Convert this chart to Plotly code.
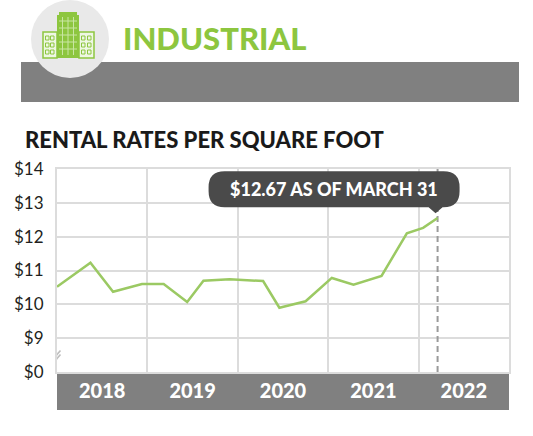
import plotly.graph_objects as go

# quarterly rental rates (position in fractional years, $ per sq ft)
x_year = [2018.0, 2018.37, 2018.62, 2018.94, 2019.18, 2019.44, 2019.62, 2019.91,
          2020.28, 2020.46, 2020.75, 2021.04, 2021.28, 2021.59, 2021.87, 2022.05, 2022.21]
rent = [10.52, 11.23, 10.37, 10.60, 10.60, 10.07, 10.70, 10.74,
        10.69, 9.90, 10.09, 10.78, 10.58, 10.84, 12.10, 12.26, 12.55]

years = ['2018', '2019', '2020', '2021', '2022']
year_mid = [2018.5, 2019.5, 2020.5, 2021.5, 2022.5]
year_edges = [2019, 2020, 2021, 2022]

y_vals = [8, 9, 10, 11, 12, 13, 14]
y_text = ['$0', '$9', '$10', '$11', '$12', '$13', '$14']

callout = '$12.67 AS OF MARCH 31'

GREEN = '#8dc63f'
LINE_GREEN = '#9bc963'
GRID = '#dcdcdc'
DARK = '#4a4a4a'
BAND = '#808080'
HEAVY = 'Lato'

W, H = 533, 436
L, R, T, B = 57, 24, 169, 64

fig = go.Figure()

fig.add_trace(go.Scatter(x=x_year, y=rent, mode='lines',
                         line=dict(color=LINE_GREEN, width=2.5),
                         hoverinfo='skip', showlegend=False))

shapes = []


# header decorations, given in screen pixels, anchored at top-left of plot
def hdr(kind, x0, y0, x1, y1, **kw):
    d = dict(type=kind, xref='paper', yref='paper', xsizemode='pixel', ysizemode='pixel',
             xanchor=0, yanchor=1, x0=x0 - L, x1=x1 - L, y0=T - y1, y1=T - y0)
    d.update(kw)
    return d


shapes.append(hdr('rect', 21, 62, 519, 102, fillcolor=BAND, line_width=0))
shapes.append(hdr('circle', 31, 0, 109, 78, fillcolor='#e9e9e9', line_width=0))

# building icon
shapes.append(hdr('rect', 43, 32, 57, 58, fillcolor='#eef7e3', line=dict(color=GREEN, width=1.5)))
shapes.append(hdr('rect', 79, 32, 94, 58, fillcolor='#eef7e3', line=dict(color=GREEN, width=1.5)))
shapes.append(hdr('rect', 57, 15, 79, 58, fillcolor=GREEN, line_width=0))
shapes.append(hdr('rect', 59, 12, 77, 15, fillcolor=GREEN, line_width=0))
for gx in [62.5, 68, 73.5]:
    shapes.append(hdr('line', gx, 17, gx, 55, line=dict(color='#c9e6a3', width=1)))
for gy in [21, 28, 35, 42, 49]:
    shapes.append(hdr('line', 59, gy, 77, gy, line=dict(color='#c9e6a3', width=1)))
for bx in [45.5, 50.5, 81.5, 87.5]:
    for by in [36, 43, 50]:
        shapes.append(hdr('rect', bx, by, bx + 3.5, by + 4, fillcolor='rgba(0,0,0,0)',
                          line=dict(color=GREEN, width=1)))

# grey band behind year labels
shapes.append(dict(type='rect', xref='paper', yref='paper', x0=0, x1=1,
                   y0=-38 / (H - T - B), y1=0, fillcolor=BAND, line_width=0, layer='below'))

# dashed marker at latest reading
shapes.append(dict(type='line', xref='x', yref='y', x0=x_year[-1], x1=x_year[-1], y0=8, y1=14,
                   line=dict(color='#9a9a9a', width=2, dash='6px,4px'), layer='between'))

# callout bubble, pixels relative to the latest point
lx, rx, top, bot, rad = -229, 22, 46.7, 10.7, 16
bubble = (f'M {lx + rad},{bot} L -9,{bot} L -2,4.7 L 5,{bot} L {rx - rad},{bot} '
          f'Q {rx},{bot} {rx},{bot + rad} L {rx},{top - rad} Q {rx},{top} {rx - rad},{top} '
          f'L {lx + rad},{top} Q {lx},{top} {lx},{top - rad} L {lx},{bot + rad} '
          f'Q {lx},{bot} {lx + rad},{bot} Z')
shapes.append(dict(type='path', xref='x', yref='y', xsizemode='pixel', ysizemode='pixel',
                   xanchor=x_year[-1], yanchor=rent[-1], path=bubble,
                   fillcolor=DARK, line_width=0, layer='above'))

# axis break marks
shapes.append(dict(type='line', xref='x', yref='y', xsizemode='pixel', ysizemode='pixel',
                   xanchor=2018, yanchor=8, x0=-3.7, y0=11.3, x1=3, y1=19,
                   line=dict(color='white', width=4), layer='above'))
for off in [0, 4]:
    shapes.append(dict(type='line', xref='x', yref='y', xsizemode='pixel', ysizemode='pixel',
                       xanchor=2018, yanchor=8, x0=-4, y0=9 + off, x1=3.5, y1=17.5 + off,
                       line=dict(color='#bdbdbd', width=1.6), layer='above'))

annotations = [
    dict(text='INDUSTRIAL', xref='paper', yref='paper', x=0, y=1, xshift=121 - L, yshift=T - 38,
         xanchor='left', yanchor='middle', showarrow=False,
         font=dict(family=HEAVY, size=31, color=GREEN, weight=900)),
    dict(text='RENTAL RATES PER SQUARE FOOT', xref='paper', yref='paper', x=0, y=1,
         xshift=23 - L, yshift=T - 139, xanchor='left', yanchor='middle', showarrow=False,
         font=dict(family=HEAVY, size=22, color='#1a1a1a', weight=900)),
    dict(text=callout, xref='x', yref='y', x=x_year[-1], y=rent[-1], xshift=-104, yshift=28.7,
         xanchor='center', yanchor='middle', showarrow=False,
         font=dict(family=HEAVY, size=18, color='white', weight=900)),
]

fig.update_layout(
    width=W, height=H,
    margin=dict(l=L, r=R, t=T, b=B),
    paper_bgcolor='white', plot_bgcolor='white',
    shapes=shapes, annotations=annotations,
    showlegend=False,
    xaxis=dict(range=[2018, 2023], tickvals=year_mid, ticktext=years,
               showgrid=False, zeroline=False, ticks='', ticklabelstandoff=0,
               tickfont=dict(family=HEAVY, size=20, color='white', weight=900),
               showline=True, mirror=True, linecolor=GRID, linewidth=2,
               minor=dict(tickvals=year_edges, showgrid=True, gridcolor=GRID, gridwidth=2, ticks='')),
    yaxis=dict(range=[8, 14], tickvals=y_vals, ticktext=y_text,
               showgrid=True, gridcolor=GRID, gridwidth=2, zeroline=False, ticks='',
               ticklabelstandoff=8,
               tickfont=dict(family='Lato', size=17, color='#231f20'),
               showline=True, mirror=True, linecolor=GRID, linewidth=2),
)

# page body has a default margin; drop it so the figure sits at the window origin
fig.write_html('out.html', config={'displayModeBar': False},
               post_script="document.body.style.margin='0';")
